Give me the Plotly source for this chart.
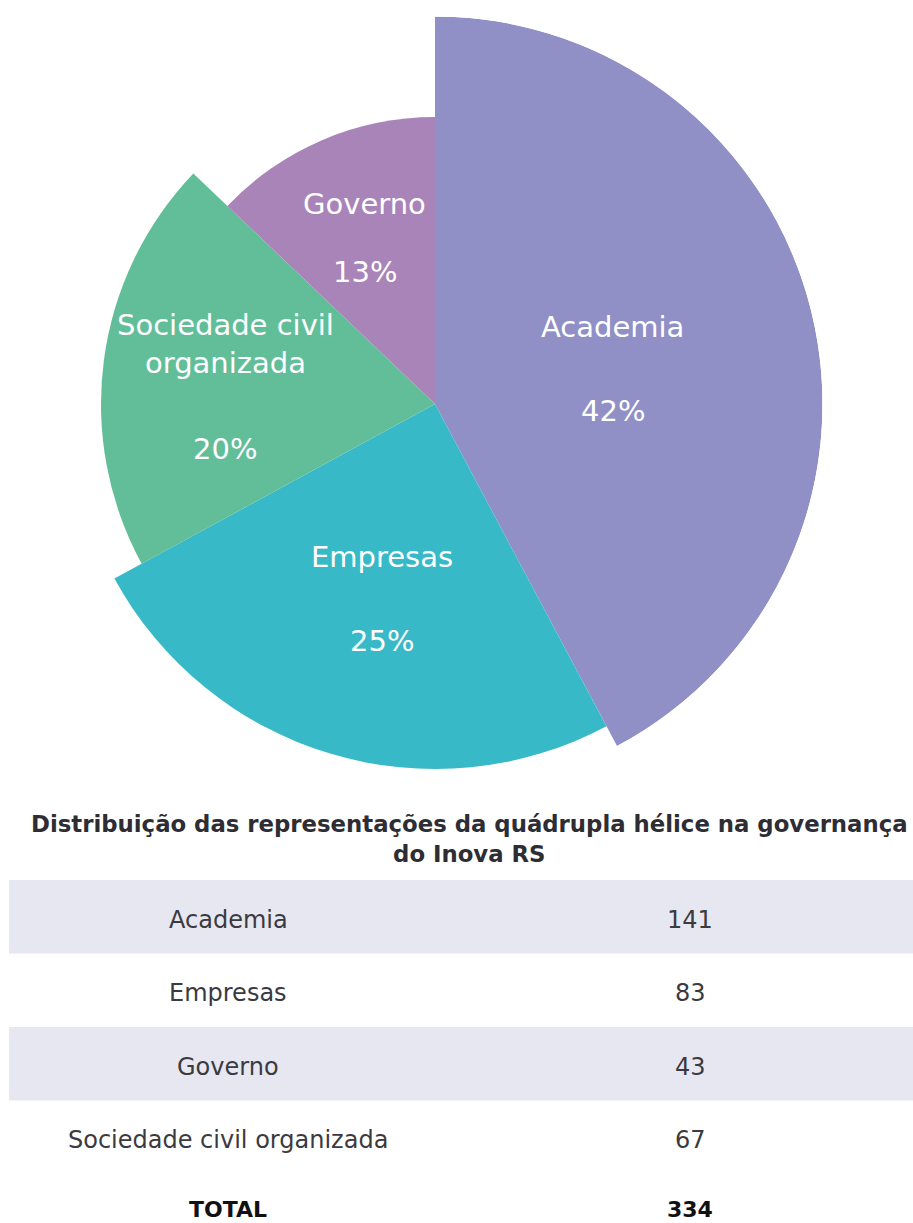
import math
import plotly.graph_objects as go

# Governance seats by helix
categories = ["Academia", "Empresas", "Sociedade civil organizada", "Governo"]
slice_labels = ["Academia", "Empresas", "Sociedade civil<br>organizada", "Governo"]
counts = [141, 83, 67, 43]
table_order = ["Academia", "Empresas", "Governo", "Sociedade civil organizada"]
total_label = "TOTAL"
title_text = "Distribuição das representações da quádrupla hélice na governança<br>do Inova RS"

# Styling
colors = ["#9090c7", "#38b9c7", "#62be99", "#a984b8"]
slice_radius = [387.5, 365, 334, 287]      # outer radius of each wedge, px
label_theta = [78.9, 195.2, 269.7, 337.1]  # label anchor angle, deg clockwise from top
label_r = [181, 202, 210, 180]             # label anchor distance from centre, px
label_gap = [42, 42, 44, 34]               # half distance between name and percentage

W, H = 913, 1223
CX, CY, R = 435, 404, 387.5

total = sum(counts)
spans = [c / total * 360 for c in counts]
mids, start = [], 0.0
for s in spans:
    mids.append(start + s / 2)
    start += s
pcts = [f"{round(c / total * 100)}%" for c in counts]


def px(x):
    return x / W


def py(y):
    return 1 - y / H


fig = go.Figure()
fig.add_trace(go.Barpolar(
    r=slice_radius,
    theta=mids,
    width=spans,
    marker=dict(color=colors, line=dict(width=0)),
    hoverinfo="skip",
    showlegend=False,
))

annotations = []
font_lbl = dict(family="DejaVu Sans", size=29, color="white")
for name, pct, th, rr, gap in zip(slice_labels, pcts, label_theta, label_r, label_gap):
    ax = CX + rr * math.sin(math.radians(th))
    ay = CY - rr * math.cos(math.radians(th))
    extra = 17 if "<br>" in name else 0
    annotations.append(dict(x=px(ax), y=py(ay - gap - extra), xref="paper", yref="paper",
                            text=name, showarrow=False, font=font_lbl,
                            xanchor="center", yanchor="middle"))
    annotations.append(dict(x=px(ax), y=py(ay + gap), xref="paper", yref="paper",
                            text=pct, showarrow=False, font=font_lbl,
                            xanchor="center", yanchor="middle"))

# Title
annotations.append(dict(x=px(469), y=py(839), xref="paper", yref="paper", text=title_text,
                        showarrow=False, xanchor="center", yanchor="middle",
                        font=dict(family="DejaVu Sans", size=22.8, color="#2d2d33", weight="bold")))

# Table
shapes = []
row_top, row_h = 880, 73.5
col1, col2 = 228, 690
count_of = dict(zip(categories, counts))
rows = [(c, str(count_of[c])) for c in table_order] + [(total_label, str(total))]
for i, (lab, val) in enumerate(rows):
    y0 = row_top + i * row_h
    if i % 2 == 0 and i < len(table_order):
        shapes.append(dict(type="rect", xref="paper", yref="paper",
                           x0=px(9), x1=1, y0=py(y0 + row_h), y1=py(y0),
                           fillcolor="#e7e7f1", line=dict(width=0), layer="below"))
    is_total = lab == total_label
    yc = y0 + row_h / 2 + (3 if not is_total else -1)
    f = dict(family="DejaVu Sans", size=24 if not is_total else 22,
             color="#3a3a40" if not is_total else "#111111",
             weight="bold" if is_total else "normal")
    annotations.append(dict(x=px(col1), y=py(yc), xref="paper", yref="paper", text=lab,
                            showarrow=False, xanchor="center", yanchor="middle", font=f))
    annotations.append(dict(x=px(col2), y=py(yc), xref="paper", yref="paper", text=val,
                            showarrow=False, xanchor="center", yanchor="middle", font=f))

fig.update_layout(
    width=W, height=H,
    margin=dict(l=0, r=0, t=0, b=0),
    paper_bgcolor="white",
    plot_bgcolor="white",
    polar=dict(
        domain=dict(x=[px(CX - R), px(CX + R)], y=[py(CY + R), py(CY - R)]),
        bgcolor="rgba(0,0,0,0)",
        hole=0,
        radialaxis=dict(range=[0, R], visible=False),
        angularaxis=dict(rotation=90, direction="clockwise", visible=False),
        bargap=0,
    ),
    annotations=annotations,
    shapes=shapes,
)

fig.write_html("out.html")
